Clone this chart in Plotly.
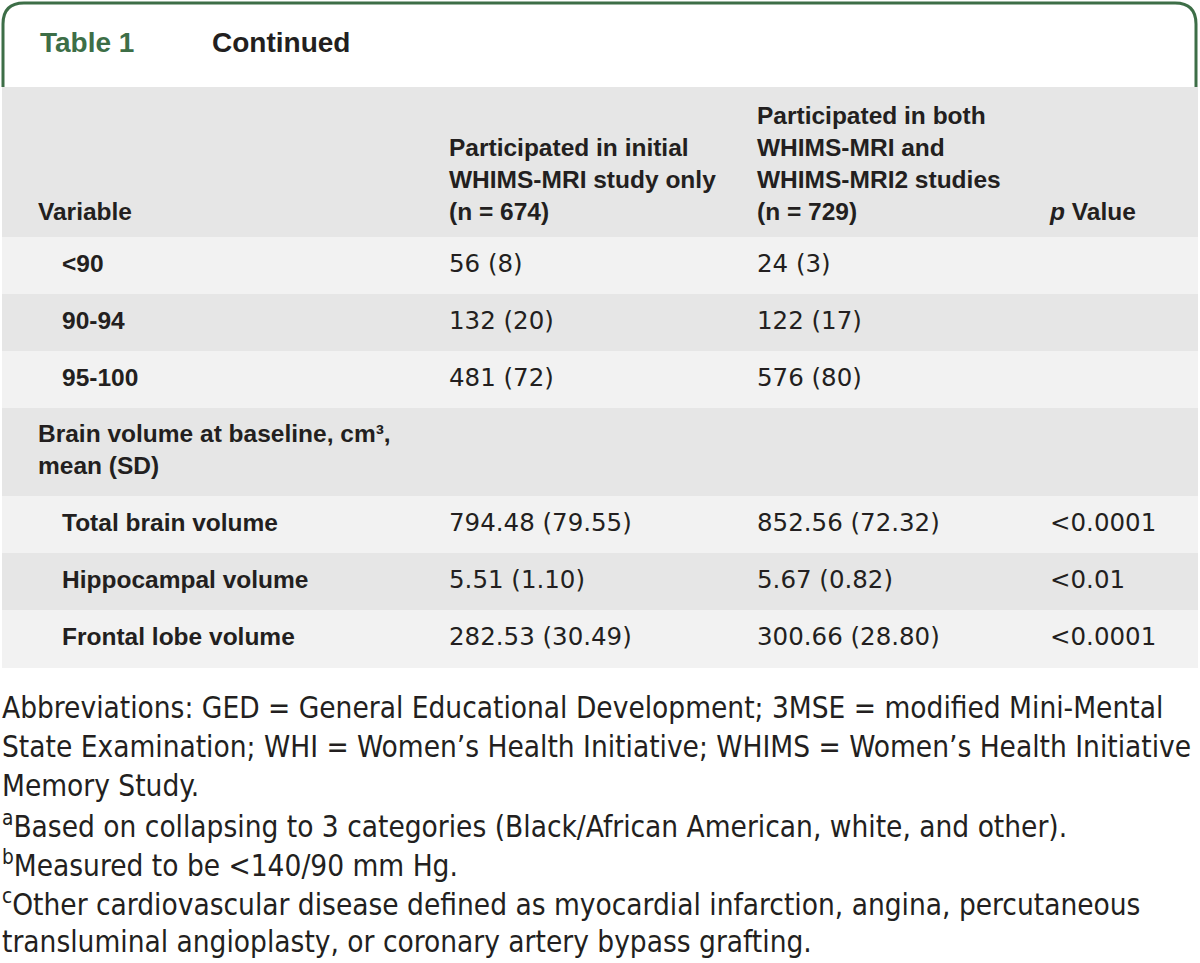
import plotly.graph_objects as go

# table content
variables = ['&lt;90', '90-94', '95-100',
             'Brain volume at baseline, cm³,<br>mean (SD)',
             'Total brain volume', 'Hippocampal volume', 'Frontal lobe volume']
indented = [True, True, True, False, True, True, True]
initial_only = ['56 (8)', '132 (20)', '481 (72)', '',
                '794.48 (79.55)', '5.51 (1.10)', '282.53 (30.49)']
both_studies = ['24 (3)', '122 (17)', '576 (80)', '',
                '852.56 (72.32)', '5.67 (0.82)', '300.66 (28.80)']
p_values = ['', '', '', '', '&lt;0.0001', '&lt;0.01', '&lt;0.0001']

headers = ['Variable',
           'Participated in initial<br>WHIMS-MRI study only<br>(n = 674)',
           'Participated in both<br>WHIMS-MRI and<br>WHIMS-MRI2 studies<br>(n = 729)',
           '<i>p</i> Value']

footnotes = [
    'Abbreviations: GED = General Educational Development; 3MSE = modified Mini-Mental',
    'State Examination; WHI = Women’s Health Initiative; WHIMS = Women’s Health Initiative',
    'Memory Study.',
    '<sup>a</sup>Based on collapsing to 3 categories (Black/African American, white, and other).',
    '<sup>b</sup>Measured to be &lt;140/90 mm Hg.',
    '<sup>c</sup>Other cardiovascular disease defined as myocardial infarction, angina, percutaneous',
    'transluminal angioplasty, or coronary artery bypass grafting.',
]

# styling
green = '#3d6e47'
ink = '#231f20'
dark_row = '#e6e6e6'
light_row = '#f2f2f2'
font_main = 'Liberation Sans, Arial, sans-serif'
font_num = 'DejaVu Sans, Verdana, sans-serif'
font_note = 'Liberation Sans Narrow, DejaVu Sans Condensed, Arial Narrow, sans-serif'
fs = 24.5

header_top = 87
header_h = 150
row_h = [57, 57, 57, 88, 57, 57, 58]
row_colors = [light_row, dark_row, light_row, dark_row, light_row, dark_row, light_row]
col_x = [38, 449, 757, 1050]
indent_x = 62

tops = []
y = header_top + header_h
for h in row_h:
    tops.append(y)
    y += h
centers = [t + h / 2 for t, h in zip(tops, row_h)]

fig = go.Figure()

# row backgrounds (header + body)
fig.add_trace(go.Bar(
    y=[header_top + header_h / 2] + centers,
    x=[1196] * (len(row_h) + 1),
    base=2,
    width=[header_h] + row_h,
    orientation='h',
    marker=dict(color=[dark_row] + row_colors, line_width=0),
    hoverinfo='skip'))

# header text, bottom aligned
header_base = 226
fig.add_trace(go.Scatter(
    x=col_x, y=[header_base] * len(headers), mode='text',
    text=['<b>' + h + '</b>' for h in headers],
    textposition='top right',
    textfont=dict(family=font_main, size=fs, color=ink),
    hoverinfo='skip'))

# first column labels
fig.add_trace(go.Scatter(
    x=[indent_x if ind else col_x[0] for ind in indented], y=centers, mode='text',
    text=['<b>' + v + '</b>' for v in variables],
    textposition='middle right',
    textfont=dict(family=font_main, size=fs, color=ink),
    hoverinfo='skip'))

# value columns, skipping empty cells
for i, col in enumerate([initial_only, both_studies, p_values]):
    keep = [k for k, v in enumerate(col) if v]
    fig.add_trace(go.Scatter(
        x=[col_x[i + 1]] * len(keep), y=[centers[k] for k in keep], mode='text',
        text=[col[k] for k in keep],
        textposition='middle right',
        textfont=dict(family=font_num, size=24.5, color=ink),
        hoverinfo='skip'))

# title tab
fig.add_shape(type='path',
              path='M 3,87 L 3,24 Q 3,3 24,3 L 1175,3 Q 1196,3 1196,24 L 1196,87',
              line=dict(color=green, width=3), xref='x', yref='y')
fig.add_annotation(x=38, y=42, xref='x', yref='y', text='<b>Table 1</b>',
                   showarrow=False, xanchor='left', yanchor='middle',
                   font=dict(family=font_main, size=28, color=green))
fig.add_annotation(x=210, y=42, xref='x', yref='y', text='<b>Continued</b>',
                   showarrow=False, xanchor='left', yanchor='middle',
                   font=dict(family=font_main, size=28, color=ink))

# footnotes
for k, line in enumerate(footnotes):
    fig.add_annotation(x=0, y=708 + 39 * k, xref='x', yref='y', text=line,
                       showarrow=False, xanchor='left', yanchor='middle',
                       font=dict(family=font_note, size=29.5, color=ink))

fig.update_layout(
    width=1200, height=963,
    margin=dict(l=0, r=0, t=0, b=0),
    paper_bgcolor='white', plot_bgcolor='white',
    showlegend=False,
    xaxis=dict(range=[0, 1200], visible=False, fixedrange=True),
    yaxis=dict(range=[963, 0], visible=False, fixedrange=True),
)

fig.write_html('out.html', config={'displayModeBar': False},
               post_script="document.body.style.margin='0';document.body.style.overflow='hidden';")
